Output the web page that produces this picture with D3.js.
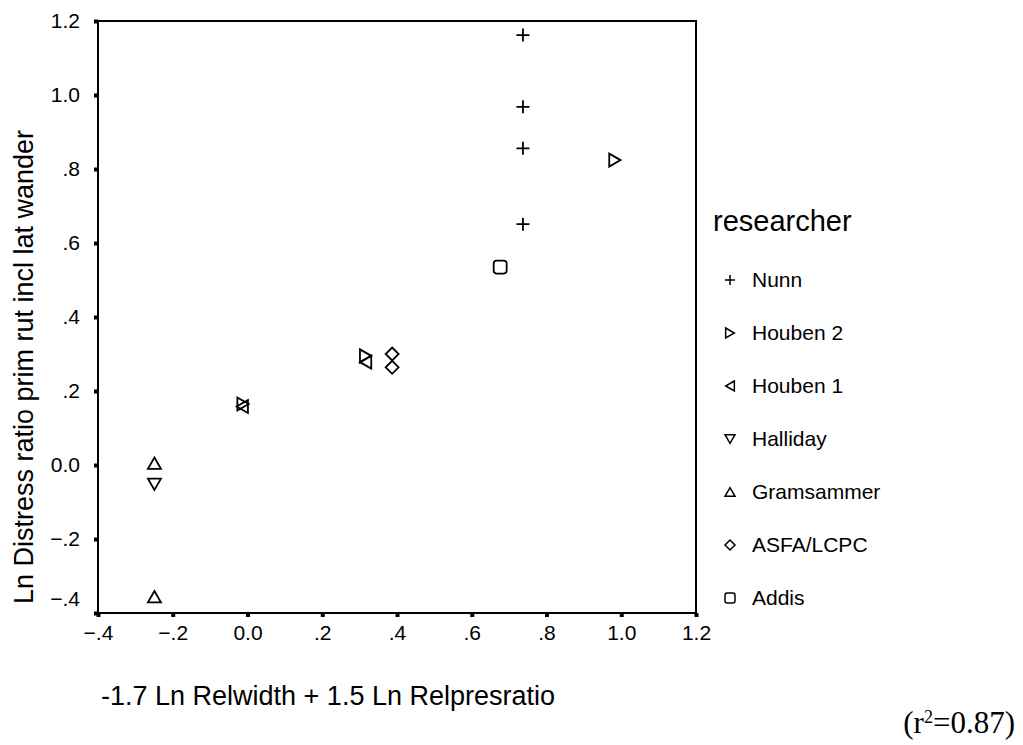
<!DOCTYPE html>
<html>
<head>
<meta charset="utf-8">
<script src="https://cdn.jsdelivr.net/npm/d3@7"></script>
<style>
  body { margin: 0; background: #fff; }
  svg { display: block; }
  text { font-family: "Liberation Sans", Arial, sans-serif; fill: #000; }
</style>
</head>
<body>
<svg id="chart" width="1023" height="745"></svg>
<script>
// Researchers in legend order, and the marker each one uses
const researchers = ["Nunn", "Houben 2", "Houben 1", "Halliday", "Gramsammer", "ASFA/LCPC", "Addis"];
const markers = ["plus", "triRight", "triLeft", "triDown", "triUp", "diamond", "square"];

// Observations per researcher (x = -1.7 Ln Relwidth + 1.5 Ln Relpresratio, y = Ln distress ratio)
const nunnX = [0.737, 0.737, 0.737, 0.737];
const nunnY = [1.162, 0.968, 0.856, 0.651];
const houben2X = [0.983, 0.316, -0.012];
const houben2Y = [0.824, 0.295, 0.165];
const houben1X = [0.316, -0.014];
const houben1Y = [0.278, 0.158];
const hallidayX = [-0.249];
const hallidayY = [-0.052];
const gramsammerX = [-0.249, -0.249];
const gramsammerY = [0.005, -0.356];
const asfaX = [0.387, 0.387];
const asfaY = [0.300, 0.264];
const addisX = [0.676];
const addisY = [0.535];

const xTicks = [-0.4, -0.2, 0.0, 0.2, 0.4, 0.6, 0.8, 1.0, 1.2];
const yTicks = [-0.4, -0.2, 0.0, 0.2, 0.4, 0.6, 0.8, 1.0, 1.2];

const xTitle = "-1.7 Ln Relwidth + 1.5 Ln Relpresratio";
const yTitle = "Ln Distress ratio prim rut incl lat wander";
const legendTitle = "researcher";
const rSquared = "0.87";

const seriesX = [nunnX, houben2X, houben1X, hallidayX, gramsammerX, asfaX, addisX];
const seriesY = [nunnY, houben2Y, houben1Y, hallidayY, gramsammerY, asfaY, addisY];

const points = [];
researchers.forEach((name, i) => {
  seriesX[i].forEach((xv, j) => points.push({ name, marker: markers[i], x: xv, y: seriesY[i][j] }));
});

const svg = d3.select("#chart");
const x = d3.scaleLinear().domain([-0.4, 1.2]).range([98, 696]);
const y = d3.scaleLinear().domain([-0.4, 1.2]).range([613, 21]);

// SPSS-style labels: ".2", "-.4", "0.0", "1.0"
const fmt = d => {
  const s = d3.format(".1f")(d);
  return Math.abs(d) > 0 && Math.abs(d) < 1 ? s.replace("0.", ".") : s;
};

// Marker outlines, s = half size
function markerPath(kind, s) {
  const p = d3.path();
  const h = s * 0.87;
  switch (kind) {
    case "plus":
      p.moveTo(-s, 0); p.lineTo(s, 0); p.moveTo(0, -s); p.lineTo(0, s); break;
    case "triUp":
      p.moveTo(0, -h); p.lineTo(s, h); p.lineTo(-s, h); p.closePath(); break;
    case "triDown":
      p.moveTo(0, h); p.lineTo(s, -h); p.lineTo(-s, -h); p.closePath(); break;
    case "triRight":
      p.moveTo(-h, -s); p.lineTo(h, 0); p.lineTo(-h, s); p.closePath(); break;
    case "triLeft":
      p.moveTo(h, -s); p.lineTo(-h, 0); p.lineTo(h, s); p.closePath(); break;
    case "diamond":
      p.moveTo(0, -s); p.lineTo(s, 0); p.lineTo(0, s); p.lineTo(-s, 0); p.closePath(); break;
    case "square": {
      const r = s * 0.45;
      p.moveTo(-s + r, -s); p.lineTo(s - r, -s); p.arcTo(s, -s, s, -s + r, r);
      p.lineTo(s, s - r); p.arcTo(s, s, s - r, s, r);
      p.lineTo(-s + r, s); p.arcTo(-s, s, -s, s - r, r);
      p.lineTo(-s, -s + r); p.arcTo(-s, -s, -s + r, -s, r);
      p.closePath(); break;
    }
  }
  return p.toString();
}

// Axes with short square tick marks outside the frame
const xAxis = svg.append("g")
  .attr("transform", `translate(0,${y.range()[0]})`)
  .call(d3.axisBottom(x).tickValues(xTicks).tickFormat(fmt).tickSizeInner(4).tickSizeOuter(0).tickPadding(8));
const yAxis = svg.append("g")
  .attr("transform", `translate(${x.range()[0]},0)`)
  .call(d3.axisLeft(y).tickValues(yTicks).tickFormat(fmt).tickSizeInner(4).tickSizeOuter(0).tickPadding(14));

[xAxis, yAxis].forEach(g => {
  g.select(".domain").remove();
  g.selectAll(".tick line").attr("stroke", "#000").attr("stroke-width", 4);
  g.selectAll(".tick text").style("font-size", "21px").style("font-family", "'Liberation Sans', Arial, sans-serif").attr("fill", "#000");
});
// bottom y label sits above the corner
yAxis.selectAll(".tick text").filter(d => d === -0.4).attr("dy", "-0.35em");

// Plot frame
svg.append("rect")
  .attr("x", x.range()[0]).attr("y", y.range()[1])
  .attr("width", x.range()[1] - x.range()[0])
  .attr("height", y.range()[0] - y.range()[1])
  .attr("fill", "none").attr("stroke", "#000").attr("stroke-width", 2);

// Data markers
svg.append("g").selectAll("path")
  .data(points)
  .join("path")
  .attr("transform", d => `translate(${x(d.x)},${y(d.y)})`)
  .attr("d", d => markerPath(d.marker, 6.5))
  .attr("fill", "none")
  .attr("stroke", "#000")
  .attr("stroke-width", 1.8);

// Axis titles
svg.append("text")
  .attr("x", 101).attr("y", 705)
  .style("font-size", "27px")
  .text(xTitle);
svg.append("text")
  .attr("transform", "translate(33,367) rotate(-90)")
  .attr("text-anchor", "middle")
  .style("font-size", "27px")
  .text(yTitle);

// Legend
const legend = svg.append("g");
legend.append("text")
  .attr("x", 713).attr("y", 231)
  .style("font-size", "29px")
  .text(legendTitle);
const rowY = d3.scalePoint().domain(researchers).range([280, 598]);
const rows = legend.selectAll("g.row")
  .data(researchers)
  .join("g")
  .attr("class", "row")
  .attr("transform", d => `translate(0,${rowY(d)})`);
rows.append("path")
  .attr("transform", "translate(730,0)")
  .attr("d", (d, i) => markerPath(markers[i], 5))
  .attr("fill", "none").attr("stroke", "#000").attr("stroke-width", 1.5);
rows.append("text")
  .attr("x", 752).attr("dy", "0.35em")
  .style("font-size", "21px")
  .text(d => d);

// Fit statistic
const r2 = svg.append("text")
  .attr("x", 1015).attr("y", 733)
  .attr("text-anchor", "end")
  .style("font-family", "'Liberation Serif', 'Times New Roman', serif")
  .style("font-size", "31px");
r2.append("tspan").text("(r");
r2.append("tspan").attr("baseline-shift", "super").style("font-size", "18px").text("2");
r2.append("tspan").text(`=${rSquared})`);
</script>
</body>
</html>
